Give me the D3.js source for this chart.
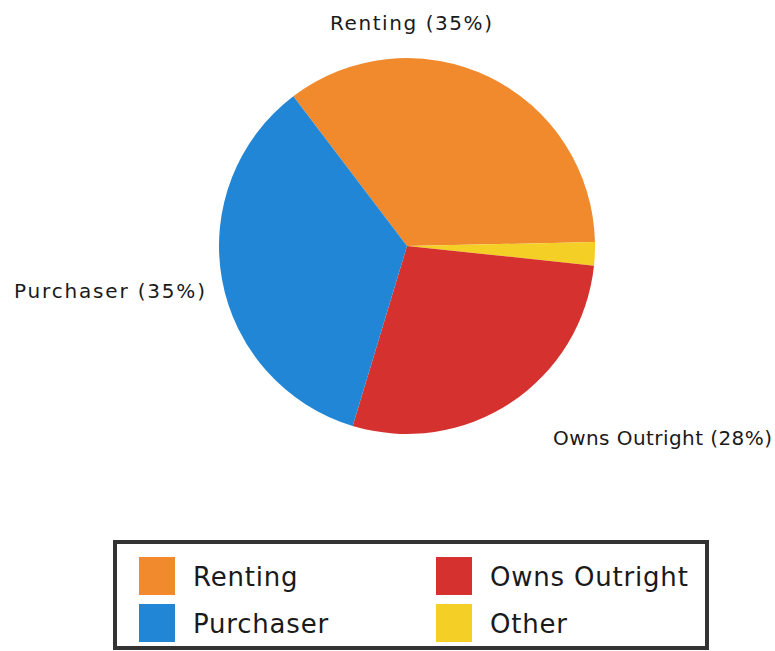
<!DOCTYPE html>
<html>
<head>
<meta charset="utf-8">
<script src="https://cdn.jsdelivr.net/npm/d3@7"></script>
<style>
    body { margin: 0; background: #fff; }
    text { font-family: "DejaVu Sans", Verdana, sans-serif; fill: #1a1a1a; }
</style>
</head>
<body>
<div id="chart"></div>
<script>
// slice order as drawn clockwise, starting at the upper left edge
var categories = ["Renting", "Other", "Owns Outright", "Purchaser"];
var values = [35, 2, 28, 35];
var colors = ["#f08a2c", "#f4cf25", "#d5312f", "#2286d6"];

// legend order (row by row)
var legendItems = ["Renting", "Owns Outright", "Purchaser", "Other"];

var width = 775, height = 651;
var cx = 407, cy = 246, radius = 188;

var svg = d3.select("#chart")
    .append("svg")
    .attr("width", width)
    .attr("height", height);

var color = d3.scaleOrdinal()
    .domain(categories)
    .range(colors);

var startDeg = -37.2;
var pie = d3.pie()
    .sort(null)
    .value(d => d.value)
    .startAngle(startDeg * Math.PI / 180)
    .endAngle((startDeg + 360) * Math.PI / 180);

var arc = d3.arc()
    .innerRadius(0)
    .outerRadius(radius);

var data = categories.map((c, i) => ({ name: c, value: values[i] }));
var total = d3.sum(values);

var g = svg.append("g")
    .attr("transform", "translate(" + cx + "," + cy + ")");

g.selectAll("path")
    .data(pie(data))
    .enter()
    .append("path")
    .attr("d", arc)
    .attr("fill", d => color(d.data.name));

// section labels (len = rendered width of the label)
var labelPos = {
    "Renting": { x: 4, y: -radius - 28, anchor: "middle", len: 162 },
    "Purchaser": { x: -radius - 14, y: 52, anchor: "end", len: 191 },
    "Owns Outright": { x: 146, y: 199, anchor: "start", len: 219 }
};

g.selectAll("text.label")
    .data(data.filter(d => labelPos[d.name]))
    .enter()
    .append("text")
    .attr("class", "label")
    .attr("x", d => labelPos[d.name].x)
    .attr("y", d => labelPos[d.name].y)
    .attr("text-anchor", d => labelPos[d.name].anchor)
    .attr("textLength", d => labelPos[d.name].len)
    .attr("lengthAdjust", "spacing")
    .style("font-size", "20px")
    .text(d => d.name + " (" + Math.round(d.value / total * 100) + "%)");

// legend
var legend = svg.append("g");
legend.append("rect")
    .attr("x", 115)
    .attr("y", 542)
    .attr("width", 592)
    .attr("height", 106)
    .attr("fill", "#fff")
    .attr("stroke", "#333")
    .attr("stroke-width", 4);

var lx = d3.scalePoint().domain([0, 1]).range([139, 436]);
var ly = d3.scalePoint().domain([0, 1]).range([557, 604]);

var item = legend.selectAll("g.item")
    .data(legendItems)
    .enter()
    .append("g")
    .attr("class", "item")
    .attr("transform", (d, i) => "translate(" + lx(i % 2) + "," + ly(Math.floor(i / 2)) + ")");

item.append("rect")
    .attr("width", 36)
    .attr("height", 38)
    .attr("fill", d => color(d));

item.append("text")
    .attr("x", 54)
    .attr("y", 29)
    .style("font-size", "26px")
    .style("letter-spacing", "0.8px")
    .text(d => d);
</script>
</body>
</html>
